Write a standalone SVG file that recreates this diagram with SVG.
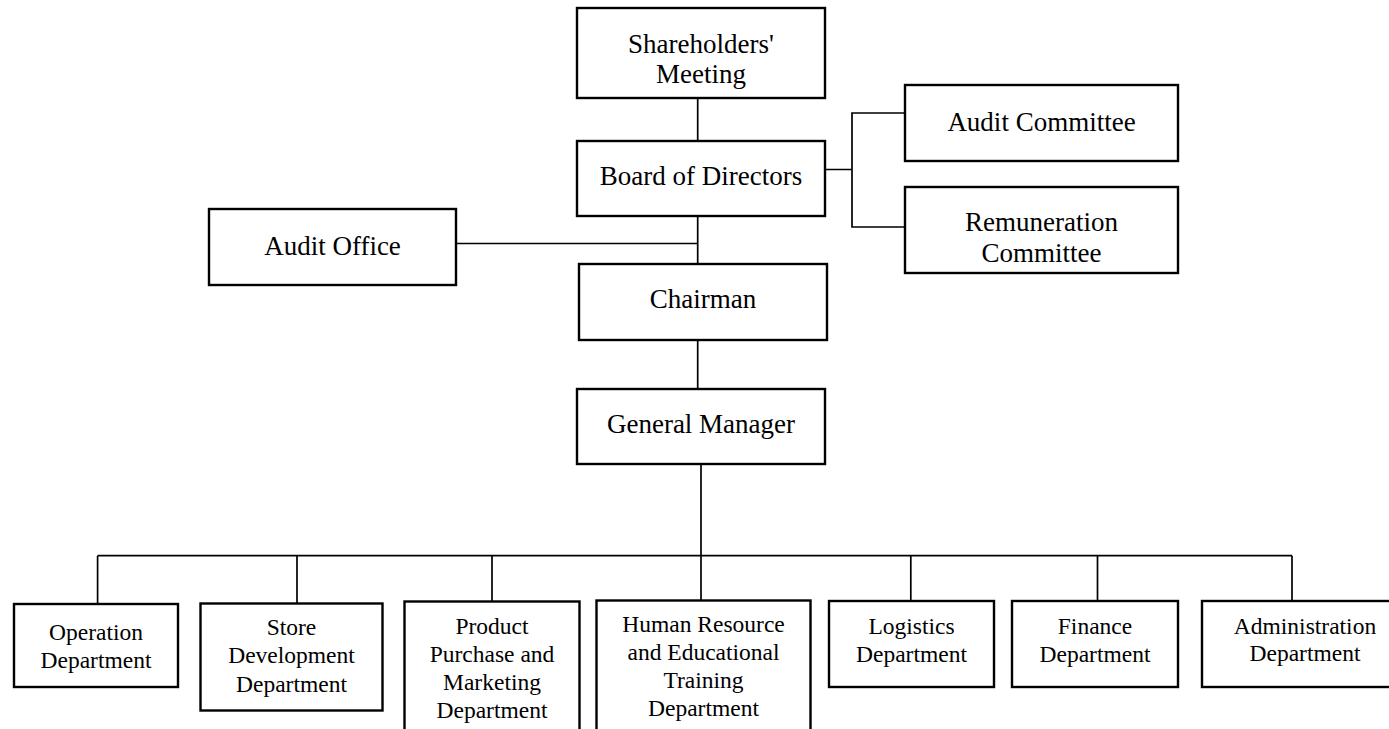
<svg xmlns="http://www.w3.org/2000/svg" width="1389" height="729" viewBox="0 0 1389 729">
<style>
.box{fill:#fff;stroke:#000;stroke-width:2.4}
.t{font-family:"Liberation Serif","Times New Roman",serif;font-size:27px;text-anchor:middle;fill:#000}
.s{font-family:"Liberation Serif","Times New Roman",serif;font-size:23.5px;text-anchor:middle;fill:#000}
.c{fill:none;stroke:#000;stroke-width:1.7}
</style>
<rect width="1389" height="729" fill="#fff"/>
<g id="connectors">
<path class="c" d="M697.7 98 V141"/>
<path class="c" d="M825 169.5 H852 M904 113 H852 V227 H904"/>
<path class="c" d="M697.7 216 V264 M456 243.5 H697.7"/>
<path class="c" d="M697.7 340 V389"/>
<path class="c" d="M701 464 V601"/>
<path class="c" d="M97.6 555.7 H1292"/>
<path class="c" d="M97.6 555.7 V604 M297 555.7 V603 M492 555.7 V601 M910.8 555.7 V601 M1097.5 555.7 V601 M1292 555.7 V601"/>
</g>
<g id="shareholders"><rect class="box" x="577" y="8" width="248" height="90"/><text class="t" x="701" y="53">Shareholders'</text><text class="t" x="701" y="83">Meeting</text></g>
<g id="board"><rect class="box" x="577" y="141" width="248" height="75"/><text class="t" x="701" y="185">Board of Directors</text></g>
<g id="audit-committee"><rect class="box" x="905" y="85" width="273" height="76"/><text class="t" x="1041.5" y="131">Audit Committee</text></g>
<g id="remuneration-committee"><rect class="box" x="905" y="187" width="273" height="86"/><text class="t" x="1041.5" y="231">Remuneration</text><text class="t" x="1041.5" y="262">Committee</text></g>
<g id="audit-office"><rect class="box" x="209" y="209" width="247" height="76"/><text class="t" x="332.5" y="255">Audit Office</text></g>
<g id="chairman"><rect class="box" x="579" y="264" width="248" height="76"/><text class="t" x="703" y="308">Chairman</text></g>
<g id="general-manager"><rect class="box" x="577" y="389" width="248" height="75"/><text class="t" x="701" y="433">General Manager</text></g>
<g id="operation"><rect class="box" x="14" y="604" width="164" height="83"/><text class="s" x="96" y="640">Operation</text><text class="s" x="96" y="668">Department</text></g>
<g id="store"><rect class="box" x="200.5" y="603.5" width="182" height="107"/><text class="s" x="291.5" y="635">Store</text><text class="s" x="291.5" y="663">Development</text><text class="s" x="291.5" y="691.5">Department</text></g>
<g id="product"><rect class="box" x="404.5" y="601.5" width="175" height="140"/><text class="s" x="492" y="634">Product</text><text class="s" x="492" y="662">Purchase and</text><text class="s" x="492" y="690">Marketing</text><text class="s" x="492" y="717.5">Department</text></g>
<g id="human-resource"><rect class="box" x="596.5" y="600.5" width="214" height="140"/><text class="s" x="703.5" y="631.5">Human Resource</text><text class="s" x="703.5" y="660">and Educational</text><text class="s" x="703.5" y="687.5">Training</text><text class="s" x="703.5" y="715.5">Department</text></g>
<g id="logistics"><rect class="box" x="829" y="601" width="165" height="86"/><text class="s" x="911.5" y="634">Logistics</text><text class="s" x="911.5" y="661.5">Department</text></g>
<g id="finance"><rect class="box" x="1012" y="601" width="166" height="86"/><text class="s" x="1095" y="634">Finance</text><text class="s" x="1095" y="661.5">Department</text></g>
<g id="administration"><rect class="box" x="1202" y="601" width="208" height="86"/><text class="s" x="1305" y="633.5">Administration</text><text class="s" x="1305" y="661">Department</text></g>
</svg>
